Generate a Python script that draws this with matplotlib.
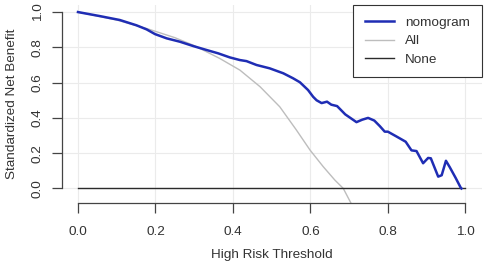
import matplotlib

matplotlib.use("Agg")
import matplotlib.pyplot as plt  # noqa: E402

plt.rcParams["font.family"] = ["Liberation Sans", "DejaVu Sans"]

# nomogram decision curve
nomo_x = [0.0, 0.057, 0.108, 0.151, 0.177, 0.199, 0.229, 0.263, 0.298, 0.332,
          0.362, 0.392, 0.418, 0.435, 0.461, 0.495, 0.530, 0.555, 0.573, 0.594,
          0.607, 0.616, 0.629, 0.643, 0.654, 0.669, 0.690, 0.719, 0.734, 0.749,
          0.765, 0.779, 0.792, 0.800, 0.822, 0.846, 0.861, 0.874, 0.891, 0.904,
          0.911, 0.930, 0.939, 0.950, 0.960, 0.975, 0.988, 0.990]
nomo_y = [1.0, 0.977, 0.955, 0.925, 0.902, 0.875, 0.851, 0.832, 0.807, 0.785,
          0.766, 0.743, 0.728, 0.722, 0.700, 0.681, 0.653, 0.625, 0.602, 0.558,
          0.520, 0.500, 0.484, 0.492, 0.475, 0.467, 0.420, 0.376, 0.390, 0.400,
          0.385, 0.354, 0.322, 0.322, 0.295, 0.265, 0.216, 0.212, 0.143, 0.173,
          0.171, 0.067, 0.075, 0.157, 0.120, 0.060, 0.005, 0.0]

# treat-all curve
all_x = [0.0, 0.1, 0.18, 0.25, 0.30, 0.366, 0.418, 0.470, 0.521, 0.564,
         0.599, 0.633, 0.663, 0.685, 0.705, 0.72]
all_y = [1.0, 0.955, 0.905, 0.855, 0.81, 0.737, 0.671, 0.577, 0.463, 0.331,
         0.218, 0.124, 0.048, 0.0, -0.084, -0.16]

# treat-none
none_x = [0.0, 1.0]
none_y = [0.0, 0.0]

ticks = [0.0, 0.2, 0.4, 0.6, 0.8, 1.0]
tick_labels = ["0.0", "0.2", "0.4", "0.6", "0.8", "1.0"]

fig = plt.figure(figsize=(4.84, 2.64), dpi=100)
ax = fig.add_axes([0.1275, 0.23, 0.8675, 0.751])
ax.set_xlim(-0.042, 1.042)
ax.set_ylim(-0.084, 1.04)

for t in ticks:
    ax.axvline(t, color="#ebebeb", lw=0.8, zorder=0)
    ax.axhline(t, color="#ebebeb", lw=0.8, zorder=0)

ax.plot(all_x, all_y, color="#bdbdbd", lw=1.0, label="All", zorder=2)
ax.plot(none_x, none_y, color="#2b2b2b", lw=1.0, label="None", zorder=2)
ax.plot(nomo_x, nomo_y, color="#1f2db4", lw=1.8, label="nomogram", zorder=3)

for s in ["top", "right"]:
    ax.spines[s].set_visible(False)
for s in ["left", "bottom"]:
    ax.spines[s].set_bounds(0, 1)
    ax.spines[s].set_color("#444444")
    ax.spines[s].set_linewidth(0.9)

ax.set_xticks(ticks)
ax.set_xticklabels(tick_labels)
ax.set_yticks(ticks)
ax.set_yticklabels(tick_labels, rotation=90, va="center")
ax.tick_params(axis="both", length=7, width=0.9, color="#444444",
               labelsize=9.7, labelcolor="#333333")
ax.tick_params(axis="x", pad=9.5)
ax.tick_params(axis="y", pad=6)

ax.set_xlabel("High Risk Threshold", fontsize=9.7, color="#333333", labelpad=7.5)
ax.set_ylabel("Standardized Net Benefit", fontsize=9.7, color="#333333", labelpad=9.5)

h, l = ax.get_legend_handles_labels()
order = [2, 0, 1]
leg = ax.legend([h[i] for i in order], [l[i] for i in order], loc="upper right",
                bbox_to_anchor=(1.0, 1.0), borderaxespad=0, fancybox=False,
                edgecolor="#333333", fontsize=9.7, handlelength=2.2,
                handletextpad=0.8, labelspacing=0.45, borderpad=0.85,
                framealpha=1)
leg.get_frame().set_linewidth(0.8)
for t in leg.get_texts():
    t.set_color("#333333")

fig.savefig("out.png", dpi=100)
